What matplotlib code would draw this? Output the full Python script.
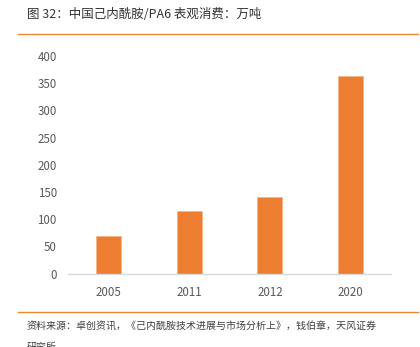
import matplotlib
matplotlib.use("Agg")
import matplotlib.pyplot as plt
from matplotlib.lines import Line2D

plt.rcParams['font.family'] = ['Noto Sans CJK SC', 'DejaVu Sans']

categories = ["2005", "2011", "2012", "2020"]
values = [70, 116, 141, 363]
yticks = [0, 50, 100, 150, 200, 250, 300, 350, 400]
title = "图 32：中国己内酰胺/PA6 表观消费：万吨"
source_1 = "资料来源：卓创资讯，《己内酰胺技术进展与市场分析上》，钱伯章，天风证券"
source_2 = "研究所"

W, H = 420, 347
fig = plt.figure(figsize=(W / 100, H / 100), dpi=100)
fig.patch.set_facecolor("white")

ax = fig.add_axes([68 / W, 1 - 273.7 / H, (391 - 68) / W, (273.7 - 56) / H])
x = range(len(categories))
ax.bar(x, values, width=0.31, color="#ED7D31", edgecolor="#F4B183", linewidth=0.4)
ax.set_xlim(-0.5, len(categories) - 0.5)
ax.set_ylim(0, 400)
ax.set_yticks(yticks)
ax.set_yticklabels([str(v) for v in yticks])
ax.set_xticks(list(x))
ax.set_xticklabels(categories)
for s in ["top", "right", "left"]:
    ax.spines[s].set_visible(False)
ax.spines["bottom"].set_color("#D9D9D9")
ax.spines["bottom"].set_linewidth(1.0)
ax.tick_params(axis="both", length=0, colors="#595959", labelsize=8.3)
ax.tick_params(axis="y", pad=8)
ax.tick_params(axis="x", pad=9)

fig.text(27 / W, 1 - 15 / H, title, fontsize=9, color="#333333", va="center", ha="left",
         fontweight="medium")
fig.add_artist(Line2D([18 / W, 418 / W], [1 - 33.5 / H, 1 - 33.5 / H], color="#F0892E", linewidth=1.0))
fig.add_artist(Line2D([18 / W, 418 / W], [1 - 312 / H, 1 - 312 / H], color="#F0892E", linewidth=1.0))
fig.text(27 / W, 1 - 326 / H, source_1, fontsize=7.2, color="#404040", va="center", ha="left")
fig.text(27 / W, 1 - 347 / H, source_2, fontsize=7.2, color="#404040", va="center", ha="left")

fig.savefig("out.png", dpi=100)
